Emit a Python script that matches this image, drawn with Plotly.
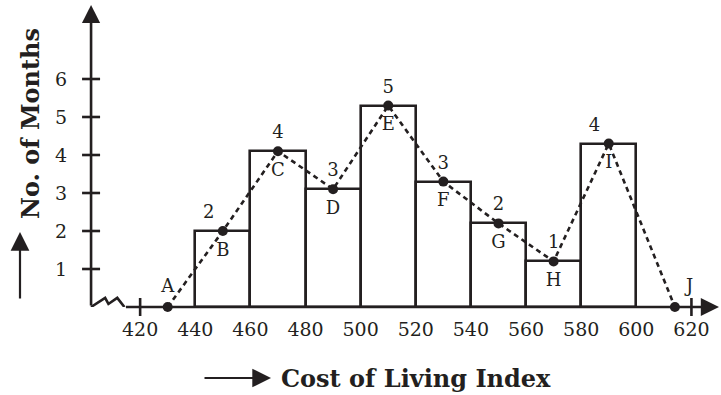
import plotly.graph_objects as go

# ---------------- data ----------------
class_lower = [440, 460, 480, 500, 520, 540, 560, 580]          # class lower limits
class_width = 20
frequency_labels = ["2", "4", "3", "5", "3", "2", "1", "4"]     # printed frequencies
bar_heights = [2.0, 4.1, 3.1, 5.3, 3.3, 2.2, 1.2, 4.3]          # heights as drawn
poly_x = [430, 450, 470, 490, 510, 530, 550, 570, 590, 614]      # frequency polygon points
poly_y = [0, 2.0, 4.1, 3.1, 5.3, 3.3, 2.2, 1.2, 4.3, 0]
point_letters = ["A", "B", "C", "D", "E", "F", "G", "H", "I", "J"]
x_tick_vals = [420, 440, 460, 480, 500, 520, 540, 560, 580, 600, 620]
x_tick_marks = [420, 620]
y_tick_vals = [1, 2, 3, 4, 5, 6]

INK = "#231f20"
SERIF = "DejaVu Serif"

bar_mid = [lo + class_width / 2 for lo in class_lower]

fig = go.Figure()

fig.add_trace(go.Bar(
    x=bar_mid, y=bar_heights, width=class_width, base=0,
    marker=dict(color="white", line=dict(color=INK, width=2.6)),
    cliponaxis=False, hoverinfo="skip", showlegend=False,
))

fig.add_trace(go.Scatter(
    x=poly_x, y=poly_y, mode="lines+markers",
    line=dict(color=INK, width=2.6, dash="5px,4px"),
    marker=dict(color=INK, size=10),
    cliponaxis=False, showlegend=False,
))

# frequency numbers above the polygon vertices
num_pos = ["top left", "top center", "top center", "top center",
           "top center", "top center", "top center", "top left"]
fig.add_trace(go.Scatter(
    x=poly_x[1:-1], y=poly_y[1:-1], mode="markers+text",
    marker=dict(size=12, opacity=0),
    text=frequency_labels, textposition=num_pos,
    textfont=dict(family=SERIF, size=18, color=INK),
    cliponaxis=False, showlegend=False, hoverinfo="skip",
))

# letters for the polygon vertices
let_pos = ["top center"] + ["bottom center"] * 8 + ["top right"]
fig.add_trace(go.Scatter(
    x=poly_x, y=poly_y, mode="markers+text",
    marker=dict(size=16, opacity=0),
    text=point_letters, textposition=let_pos,
    textfont=dict(family=SERIF, size=18, color=INK),
    cliponaxis=False, showlegend=False, hoverinfo="skip",
))

# ---------------- axes decorations ----------------
L, R, T, B = 85, 2, 3, 88
W, H = 721, 395
PW, PH = W - L - R, H - T - B
X0, X1 = 400, 630
Y0, Y1 = 0, 8
YAX = 402.2  # position of vertical axis in data units

def px2paper_x(px):
    return (px - L) / PW

def py2paper_y(py):
    return (H - B - py) / PH

def dx2paper(v):
    return (v - X0) / (X1 - X0)

def dy2paper(v):
    return (v - Y0) / (Y1 - Y0)

TICK_HALF_PX = 9
shapes = []
for v in y_tick_vals:
    shapes.append(dict(type="line", xref="paper", yref="paper",
                       x0=dx2paper(YAX) - TICK_HALF_PX / PW,
                       x1=dx2paper(YAX) + TICK_HALF_PX / PW,
                       y0=dy2paper(v), y1=dy2paper(v),
                       line=dict(color=INK, width=2.6)))
for v in x_tick_marks:
    shapes.append(dict(type="line", xref="paper", yref="paper",
                       x0=dx2paper(v), x1=dx2paper(v),
                       y0=dy2paper(0) - TICK_HALF_PX / PH,
                       y1=dy2paper(0) + TICK_HALF_PX / PH,
                       line=dict(color=INK, width=2.6)))
shapes.append(dict(type="path", xref="x", yref="y",
                   path="M 402.2,0 L 407.3,0.24 L 408.5,0.08 L 411.7,0.24 L 414.3,0",
                   line=dict(color=INK, width=2.6)))

annotations = [
    dict(x=YAX, y=7.95, ax=YAX, ay=0, xref="x", yref="y", axref="x", ayref="y",
         text="", showarrow=True, arrowhead=2, arrowsize=1.4, arrowwidth=2.6,
         arrowcolor=INK),
    dict(x=630, y=0, ax=414.3, ay=0, xref="x", yref="y", axref="x", ayref="y",
         text="", showarrow=True, arrowhead=2, arrowsize=1.4, arrowwidth=2.6,
         arrowcolor=INK),
    dict(x=px2paper_x(416), y=py2paper_y(378), xref="paper", yref="paper",
         xanchor="center", yanchor="middle",
         text="<b>Cost of Living Index</b>", showarrow=False,
         font=dict(family=SERIF, size=24, color=INK)),
    dict(x=px2paper_x(271), y=py2paper_y(378), xref="paper", yref="paper",
         text="", showarrow=True, ax=-68, ay=0, arrowhead=2, arrowsize=1.7,
         arrowwidth=2.2, arrowcolor=INK),
    dict(x=px2paper_x(30), y=py2paper_y(124), xref="paper", yref="paper",
         xanchor="center", yanchor="middle",
         text="<b>No. of Months</b>", textangle=-90, showarrow=False,
         font=dict(family=SERIF, size=24, color=INK)),
    dict(x=px2paper_x(20), y=py2paper_y(232), xref="paper", yref="paper",
         text="", showarrow=True, ax=0, ay=68, arrowhead=2, arrowsize=1.7,
         arrowwidth=2.2, arrowcolor=INK),
]

fig.update_layout(
    width=W, height=H,
    margin=dict(l=L, r=R, t=T, b=B, autoexpand=False),
    paper_bgcolor="white", plot_bgcolor="white",
    bargap=0,
    shapes=shapes, annotations=annotations,
    xaxis=dict(range=[X0, X1], tickvals=x_tick_vals, ticks="", showgrid=False,
               zeroline=False, showline=False, ticklabelstandoff=9,
               automargin=False,
               tickfont=dict(family=SERIF, size=19, color=INK)),
    yaxis=dict(range=[Y0, Y1], tickvals=y_tick_vals, ticks="", showgrid=False,
               zeroline=False, showline=False, anchor="free",
               position=px2paper_x(91), ticklabelstandoff=24, automargin=False,
               tickfont=dict(family=SERIF, size=19, color=INK)),
)

fig.write_html("out.html", config={"displayModeBar": False},
               post_script="document.body.style.margin='0px';")
